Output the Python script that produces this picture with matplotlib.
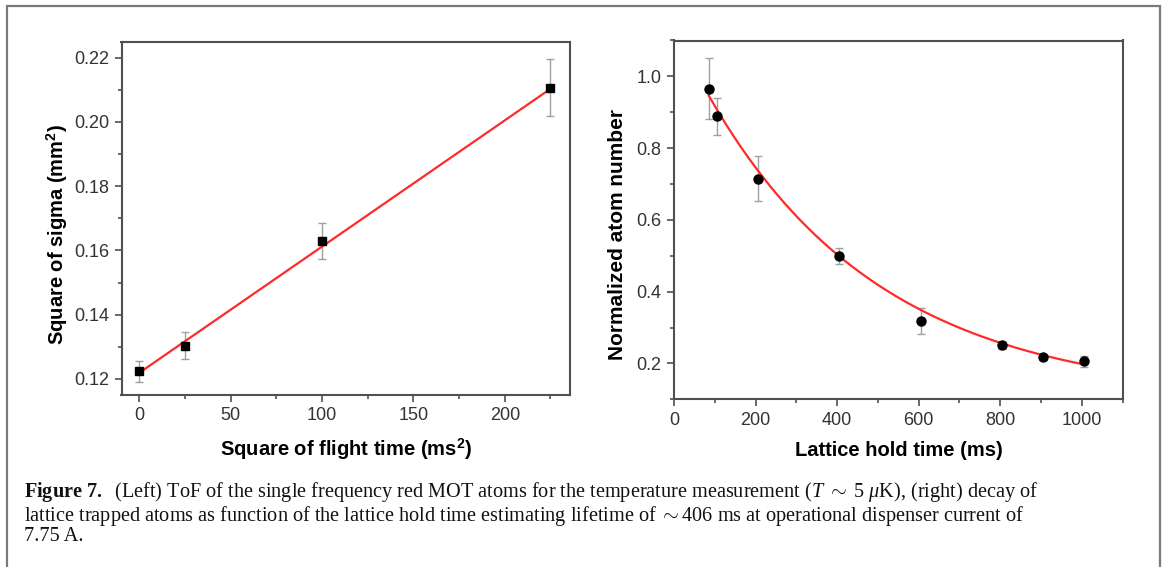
import numpy as np
import matplotlib
matplotlib.use("Agg")
import matplotlib.pyplot as plt
from matplotlib.ticker import MultipleLocator
from matplotlib.patches import Rectangle

# ---------------- data ----------------
# Left panel: ToF
tof_x = [0, 25, 100, 225]                       # square of flight time (ms^2)
tof_y = [0.1225, 0.1304, 0.1629, 0.2107]        # square of sigma (mm^2)
tof_err_lo = [0.1192, 0.1262, 0.1574, 0.2019]
tof_err_hi = [0.1256, 0.1345, 0.1684, 0.2195]
tof_fit_intercept = 0.1219
tof_fit_slope = 0.000393                          # mm^2 / ms^2

# Right panel: lattice lifetime
hold_x = [85, 105, 205, 405, 605, 805, 905, 1005]
hold_y = [0.965, 0.889, 0.715, 0.4995, 0.317, 0.251, 0.217, 0.207]
hold_err_lo = [0.882, 0.837, 0.652, 0.476, 0.281, 0.240, 0.209, 0.191]
hold_err_hi = [1.051, 0.940, 0.778, 0.523, 0.355, 0.261, 0.224, 0.221]
fit_y0, fit_A, fit_tau = 0.100, 1.0345, 425.0

left_xticks = [0, 50, 100, 150, 200]
left_yticks = [0.12, 0.14, 0.16, 0.18, 0.20, 0.22]
right_xticks = [0, 200, 400, 600, 800, 1000]
right_yticks = [0.2, 0.4, 0.6, 0.8, 1.0]

caption_lines = [
    r"$\mathbf{Figure\ 7.}$  (Left) ToF of the single frequency red MOT atoms for the temperature measurement ($T\ \sim\ 5\ \mu$K), (right) decay of",
    r"lattice trapped atoms as function of the lattice hold time estimating lifetime of $\sim$406 ms at operational dispenser current of",
    "7.75 A.",
]

# ---------------- style ----------------
W, H = 1165, 567
plt.rcParams['font.family'] = ['Liberation Sans', 'DejaVu Sans']
plt.rcParams['mathtext.fontset'] = 'custom'
plt.rcParams['mathtext.rm'] = 'Liberation Serif'
plt.rcParams['mathtext.it'] = 'Liberation Serif:italic'
plt.rcParams['mathtext.bf'] = 'Liberation Serif:bold'

spine_c = '#505050'
tick_lab_c = '#333333'
err_c = '#a0a0a0'
red = '#ff2a2a'

fig = plt.figure(figsize=(W / 100, H / 100), dpi=100)


def px_axes(x0, y0, x1, y1):
    return fig.add_axes([x0 / W, 1 - y1 / H, (x1 - x0) / W, (y1 - y0) / H])


def style(ax):
    for s in ax.spines.values():
        s.set_color(spine_c)
        s.set_linewidth(1.5)
    ax.tick_params(which='both', direction='out', color=spine_c, width=1.2,
                   top=False, right=False)
    ax.tick_params(which='major', length=5, pad=4, labelsize=13, labelcolor=tick_lab_c)
    ax.tick_params(which='minor', length=3)


axL = px_axes(121.5, 41.7, 570, 395)
axR = px_axes(674, 40.5, 1122.5, 399.3)

# Left panel
axL.errorbar(tof_x, tof_y,
             yerr=[np.array(tof_y) - np.array(tof_err_lo), np.array(tof_err_hi) - np.array(tof_y)],
             fmt='none', ecolor=err_c, elinewidth=1, capsize=3, capthick=1, zorder=2)
fx = np.linspace(min(tof_x), max(tof_x), 50)
axL.plot(fx, tof_fit_intercept + tof_fit_slope * fx, color=red, lw=1.6, zorder=3)
axL.plot(tof_x, tof_y, 's', color='black', ms=5.5, zorder=4)
axL.set_xlim(-9.7, 235.7)
axL.set_ylim(0.115, 0.225)
axL.set_xticks(left_xticks)
axL.set_yticks(left_yticks)
axL.set_yticklabels([f"{v:.2f}" for v in left_yticks])
axL.xaxis.set_minor_locator(MultipleLocator(25))
axL.yaxis.set_minor_locator(MultipleLocator(0.01))
style(axL)
axL.set_xlabel(r"Square of flight time (ms$^\mathregular{2}$)", fontsize=14.5, fontweight='bold', va='center')
axL.set_ylabel(r"Square of sigma (mm$^\mathregular{2}$)", fontsize=14.5, fontweight='bold', va='center')
axL.xaxis.set_label_coords(0.5, -0.153)
axL.yaxis.set_label_coords(-0.144, 0.455)

# Right panel
axR.errorbar(hold_x, hold_y,
             yerr=[np.array(hold_y) - np.array(hold_err_lo), np.array(hold_err_hi) - np.array(hold_y)],
             fmt='none', ecolor=err_c, elinewidth=1, capsize=3, capthick=1, zorder=2)
hx = np.linspace(min(hold_x), max(hold_x), 300)
axR.plot(hx, fit_y0 + fit_A * np.exp(-hx / fit_tau), color=red, lw=1.6, zorder=3)
axR.plot(hold_x, hold_y, 'o', color='black', ms=6.5, zorder=4)
axR.set_xlim(0, 1100)
axR.set_ylim(0.1, 1.1)
axR.set_xticks(right_xticks)
axR.set_yticks(right_yticks)
axR.set_yticklabels([f"{v:.1f}" for v in right_yticks])
axR.xaxis.set_minor_locator(MultipleLocator(100))
axR.yaxis.set_minor_locator(MultipleLocator(0.1))
style(axR)
axR.set_xlabel("Lattice hold time (ms)", fontsize=14.5, fontweight='bold', va='center')
axR.set_ylabel("Normalized atom number", fontsize=15, fontweight='bold', va='center')
axR.xaxis.set_label_coords(0.502, -0.143)
axR.yaxis.set_label_coords(-0.127, 0.46)

# Outer frame (bottom edge lies outside the image)
fig.patches.append(Rectangle((7.3 / W, -0.05), (1160 - 7.3) / W, 1.05 - 6 / H,
                             transform=fig.transFigure, fill=False,
                             edgecolor='#7a7a7a', lw=1.6, clip_on=False))

# Caption (one multi-line text block)
fig.text(24 / W, 1 - 480 / H, "\n".join(caption_lines),
         family=['Liberation Serif', 'DejaVu Serif'], fontsize=14.6,
         va='top', ha='left', color='#111111', linespacing=0.98)

fig.savefig("out.png", dpi=100)
